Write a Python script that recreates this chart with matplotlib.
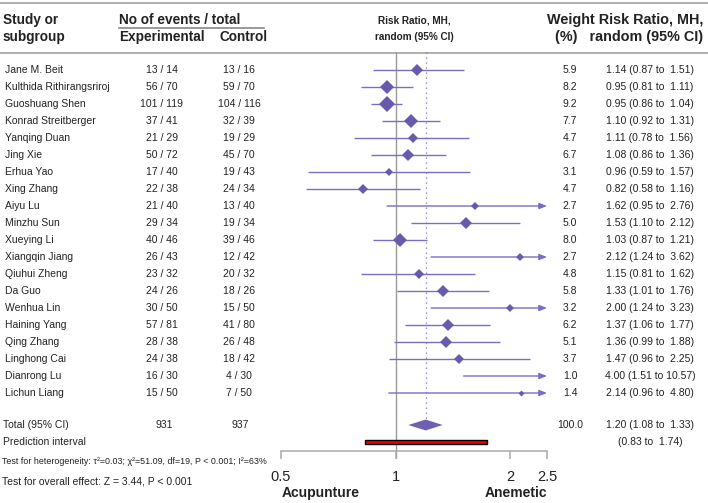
import numpy as np
import matplotlib
matplotlib.use("Agg")
import matplotlib.pyplot as plt
from matplotlib.transforms import blended_transform_factory
from matplotlib.ticker import NullLocator, FixedLocator, FixedFormatter

plt.rcParams['font.family'] = ['Liberation Sans', 'DejaVu Sans']

studies = ["Jane M. Beit", "Kulthida Rithirangsriroj", "Guoshuang Shen", "Konrad Streitberger",
           "Yanqing Duan", "Jing Xie", "Erhua Yao", "Xing Zhang", "Aiyu Lu", "Minzhu Sun",
           "Xueying Li", "Xiangqin Jiang", "Qiuhui Zheng", "Da Guo", "Wenhua Lin",
           "Haining Yang", "Qing Zhang", "Linghong Cai", "Dianrong Lu", "Lichun Liang"]
exp_events = [13, 56, 101, 37, 21, 50, 17, 22, 21, 29, 40, 26, 23, 24, 30, 57, 28, 24, 16, 15]
exp_total = [14, 70, 119, 41, 29, 72, 40, 38, 40, 34, 46, 43, 32, 26, 50, 81, 38, 38, 30, 50]
ctrl_events = [13, 59, 104, 32, 19, 45, 19, 24, 13, 19, 39, 12, 20, 18, 15, 41, 26, 18, 4, 7]
ctrl_total = [16, 70, 116, 39, 29, 70, 43, 34, 40, 34, 46, 42, 32, 26, 50, 80, 48, 42, 30, 50]
weights = [5.9, 8.2, 9.2, 7.7, 4.7, 6.7, 3.1, 4.7, 2.7, 5.0, 8.0, 2.7, 4.8, 5.8, 3.2, 6.2, 5.1, 3.7, 1.0, 1.4]
rr = [1.14, 0.95, 0.95, 1.10, 1.11, 1.08, 0.96, 0.82, 1.62, 1.53, 1.03, 2.12, 1.15, 1.33, 2.00, 1.37, 1.36, 1.47, 4.00, 2.14]
rr_lo = [0.87, 0.81, 0.86, 0.92, 0.78, 0.86, 0.59, 0.58, 0.95, 1.10, 0.87, 1.24, 0.81, 1.01, 1.24, 1.06, 0.99, 0.96, 1.51, 0.96]
rr_hi = [1.51, 1.11, 1.04, 1.31, 1.56, 1.36, 1.57, 1.16, 2.76, 2.12, 1.21, 3.62, 1.62, 1.76, 3.23, 1.77, 1.88, 2.25, 10.57, 4.80]

total_exp = 931
total_ctrl = 937
total_weight = 100.0
total_rr = [1.20, 1.08, 1.33]      # estimate, lower, upper
pred_interval = [0.83, 1.74]
xticks = [0.5, 1, 2, 2.5]
xtick_labels = ["0.5", "1", "2", "2.5"]

heterogeneity = "Test for heterogeneity: τ²=0.03; χ²=51.09, df=19, P < 0.001; I²=63%"
overall = "Test for overall effect: Z = 3.44, P < 0.001"

# ---------------- layout ----------------
W, H = 708, 503
fig = plt.figure(figsize=(W / 100, H / 100), dpi=100)
bg = fig.add_axes([0, 0, 1, 1])
bg.set_xlim(0, W)
bg.set_ylim(H, 0)
bg.axis('off')

row0_px, row_dy = 70, 17.0
top_px, bottom_px = 52, 459
x_left_px, x_right_px = 281, 547

ax = fig.add_axes([x_left_px / W, 1 - bottom_px / H, (x_right_px - x_left_px) / W, (bottom_px - top_px) / H])
ax.set_xscale('log')
ax.set_xlim(0.5, 2.5)
y_top = (top_px - row0_px) / row_dy
y_bot = (bottom_px - row0_px) / row_dy
ax.set_ylim(y_bot, y_top)
ax.patch.set_alpha(0)
for s in ['top', 'right', 'left']:
    ax.spines[s].set_visible(False)
ax.set_yticks([])

n = len(studies)
y_total = (425 - row0_px) / row_dy
y_pred = (442 - row0_px) / row_dy
y_axis = (451 - row0_px) / row_dy

# axis
ax.spines['bottom'].set_position(('data', y_axis))
ax.spines['bottom'].set_bounds(0.5, 2.5)
ax.spines['bottom'].set_color('#aaaaaa')
ax.spines['bottom'].set_linewidth(1.1)
ax.xaxis.set_major_locator(FixedLocator(xticks))
ax.xaxis.set_major_formatter(FixedFormatter(xtick_labels))
ax.xaxis.set_minor_locator(NullLocator())
ax.tick_params(axis='x', direction='out', length=6, width=1.1, color='#aaaaaa',
               labelsize=10.5, pad=8, labelcolor='#222222')

line_col = '#7b6cc6'
mark_col = '#6a5aae'

# reference lines
ax.axvline(1, color='#999999', lw=1.0, zorder=1)
ax.plot([total_rr[0], total_rr[0]], [y_top, y_total - 0.35], linestyle=(0, (1, 3)),
        color='#7d6fc4', lw=0.9, zorder=1)

# studies
for i in range(n):
    lo, hi, est, w = rr_lo[i], rr_hi[i], rr[i], weights[i]
    if hi > 2.5:
        ax.annotate('', xy=(2.5, i), xytext=(lo, i),
                    arrowprops=dict(arrowstyle='-|>,head_length=0.45,head_width=0.18',
                                    color=line_col, lw=1.0, shrinkA=0, shrinkB=0))
    else:
        ax.plot([lo, hi], [i, i], color=line_col, lw=1.0, solid_capstyle='butt', zorder=2)
    ax.plot([est], [i], marker='D', ms=2.55 * np.sqrt(w), color=mark_col, mew=0, zorder=3)

# total diamond
t_est, t_lo, t_hi = total_rr
ax.fill([t_lo, t_est, t_hi, t_est], [y_total, y_total - 0.32, y_total, y_total + 0.32],
        color='#7060b4', lw=0, zorder=3)

# prediction interval
ax.fill([pred_interval[0], pred_interval[1], pred_interval[1], pred_interval[0]],
        [y_pred - 0.13, y_pred - 0.13, y_pred + 0.13, y_pred + 0.13],
        facecolor='#ee0000', edgecolor='black', lw=1.0, zorder=3)

# ---------------- text ----------------
tr = blended_transform_factory(bg.transData, ax.transData)
fs = 7.5
tc = '#222222'
for i in range(n):
    bg.text(5, i, studies[i], transform=tr, fontsize=fs, va='center', ha='left', color=tc)
    bg.text(162, i, f"{exp_events[i]} / {exp_total[i]}", transform=tr, fontsize=fs, va='center', ha='center', color=tc)
    bg.text(239, i, f"{ctrl_events[i]} / {ctrl_total[i]}", transform=tr, fontsize=fs, va='center', ha='center', color=tc)
    bg.text(570, i, f"{weights[i]:.1f}", transform=tr, fontsize=fs, va='center', ha='center', color=tc)
    bg.text(650, i, f"{rr[i]:.2f} ({rr_lo[i]:.2f} to {rr_hi[i]:5.2f})", transform=tr, fontsize=fs,
            va='center', ha='center', color=tc)

bg.text(3, y_total, "Total (95% CI)", transform=tr, fontsize=fs, va='center', ha='left', color=tc)
bg.text(164, y_total, f"{total_exp}", transform=tr, fontsize=fs, va='center', ha='center', color=tc)
bg.text(240, y_total, f"{total_ctrl}", transform=tr, fontsize=fs, va='center', ha='center', color=tc)
bg.text(570, y_total, f"{total_weight:.1f}", transform=tr, fontsize=fs, va='center', ha='center', color=tc)
bg.text(650, y_total, f"{t_est:.2f} ({t_lo:.2f} to {t_hi:5.2f})", transform=tr, fontsize=fs,
        va='center', ha='center', color=tc)
bg.text(3, y_pred, "Prediction interval", transform=tr, fontsize=fs, va='center', ha='left', color=tc)
bg.text(650, y_pred, f"({pred_interval[0]:.2f} to {pred_interval[1]:5.2f})", transform=tr, fontsize=fs,
        va='center', ha='center', color=tc)
bg.text(2, 461, heterogeneity, fontsize=6.4, va='center', ha='left', color=tc)
bg.text(2, 481, overall, fontsize=fs, va='center', ha='left', color=tc)

# headers
bg.plot([0, W], [2.5, 2.5], color='#aaaaaa', lw=1.3)
bg.plot([0, W], [52.5, 52.5], color='#aaaaaa', lw=1.3)
hfs = 9.8
bg.text(3, 20, "Study or", fontsize=hfs, fontweight='bold', va='center', ha='left', color=tc)
bg.text(3, 37, "subgroup", fontsize=hfs, fontweight='bold', va='center', ha='left', color=tc)
bg.text(119, 20, "No of events / total", fontsize=hfs, fontweight='bold', va='center', ha='left', color=tc)
bg.plot([119, 264], [28, 28], color='#888888', lw=1.2)
bg.text(119, 37, "Experimental", fontsize=hfs, fontweight='bold', va='center', ha='left', color=tc)
bg.text(268, 37, "Control", fontsize=hfs, fontweight='bold', va='center', ha='right', color=tc)
bg.text(414, 20, "Risk Ratio, MH,", fontsize=7.2, fontweight='bold', va='center', ha='center', color=tc)
bg.text(414, 37, "random (95% CI)", fontsize=7.2, fontweight='bold', va='center', ha='center', color=tc)
bg.text(703, 20, "Weight Risk Ratio, MH,", fontsize=10.4, fontweight='bold', va='center', ha='right', color=tc)
bg.text(703, 37, "(%)   random (95% CI)", fontsize=10.4, fontweight='bold', va='center', ha='right', color=tc)

bg.text(282, 493, "Acupunture", fontsize=10, fontweight='bold', va='center', ha='left', color=tc)
bg.text(547, 493, "Anemetic", fontsize=10, fontweight='bold', va='center', ha='right', color=tc)

fig.savefig("out.png", dpi=100)
